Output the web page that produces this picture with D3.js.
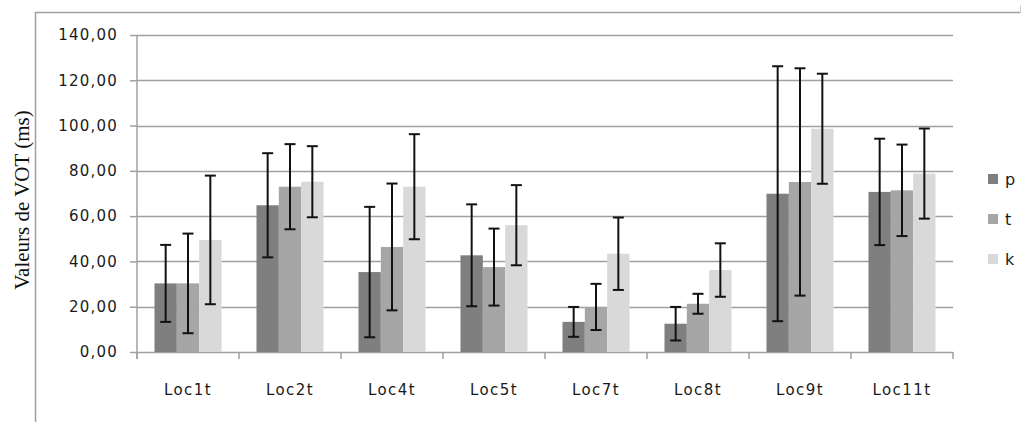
<!DOCTYPE html>
<html><head><meta charset="utf-8">
<script src="https://cdn.jsdelivr.net/npm/d3@7"></script>
<style>body{margin:0;background:#fff}svg{display:block}</style>
</head><body><svg id="c" width="1026" height="422"></svg>
<script>
const categories = ["Loc1t","Loc2t","Loc4t","Loc5t","Loc7t","Loc8t","Loc9t","Loc11t"];
const seriesNames = ["p","t","k"];
const pValues = [30.3, 64.8, 35.3, 42.7, 13.3, 12.5, 69.9, 70.7];
const tValues = [30.3, 73.0, 46.4, 37.5, 19.9, 21.3, 75.1, 71.4];
const kValues = [49.5, 75.2, 73.0, 56.0, 43.4, 36.2, 98.6, 78.8];
const pErrors = [17.0, 23.0, 28.8, 22.5, 6.6, 7.4, 56.3, 23.5];
const tErrors = [22.0, 18.8, 28.0, 17.0, 10.2, 4.4, 50.2, 20.2];
const kErrors = [28.4, 15.7, 23.2, 17.7, 16.0, 11.8, 24.3, 19.9];
const yTicks = [0,20,40,60,80,100,120,140];
const colors = ["#7f7f7f","#a6a6a6","#d9d9d9"];

const values = [pValues, tValues, kValues];
const errors = [pErrors, tErrors, kErrors];
const svg = d3.select("#c");
const L = 137, R = 953, T = 35, B = 352;
const FONT = "DejaVu Sans, sans-serif";

// outer frame
svg.append("line").attr("x1",35.5).attr("x2",35.5).attr("y1",12).attr("y2",422).attr("stroke","#a0a0a0").attr("stroke-width",1.5);
svg.append("line").attr("x1",35).attr("x2",1020).attr("y1",12.5).attr("y2",12.5).attr("stroke","#a0a0a0").attr("stroke-width",1.5);
svg.append("line").attr("x1",1020.5).attr("x2",1020.5).attr("y1",5).attr("y2",13).attr("stroke","#d0d0d0").attr("stroke-width",1);

const x0 = d3.scaleBand().domain(categories).range([L, R]).paddingInner(0.343).paddingOuter(0.1715);
const x1 = d3.scaleBand().domain(seriesNames).range([0, x0.bandwidth()]);
const y = d3.scaleLinear().domain([0,140]).range([B, T]);

// gridlines
svg.append("g").selectAll("line").data(yTicks.filter(d=>d>0)).join("line")
  .attr("x1",L).attr("x2",R).attr("y1",d=>Math.round(y(d))+0.5).attr("y2",d=>Math.round(y(d))+0.5)
  .attr("stroke","#a0a0a0").attr("stroke-width",1.5);

// y axis
const yAxis = svg.append("g").attr("transform",`translate(${L},0)`)
  .call(d3.axisLeft(y).tickValues(yTicks).tickSize(7).tickPadding(12).tickFormat(d=>d3.format(".2f")(d).replace(".",",")));
yAxis.select(".domain").attr("stroke","#a0a0a0").attr("stroke-width",1.5).attr("d",`M0,${B+7}V${T}`);
yAxis.selectAll(".tick line").attr("stroke","#a0a0a0").attr("stroke-width",1.5);
yAxis.selectAll("text").attr("font-family",FONT).attr("font-size",15).attr("letter-spacing",1.2).attr("fill","#1a1a1a");

// x axis
const bounds = d3.range(categories.length+1).map(i => L + i*(R-L)/categories.length);
svg.append("line").attr("x1",L).attr("x2",R).attr("y1",B+0.5).attr("y2",B+0.5).attr("stroke","#a0a0a0").attr("stroke-width",1.5);
svg.append("g").selectAll("line").data(bounds).join("line")
  .attr("x1",d=>d).attr("x2",d=>d).attr("y1",B).attr("y2",B+7).attr("stroke","#a0a0a0").attr("stroke-width",1.5);
svg.append("g").selectAll("text").data(categories).join("text")
  .attr("x",d=>x0(d)+x0.bandwidth()/2).attr("y",395).attr("text-anchor","middle")
  .attr("font-family",FONT).attr("font-size",15).attr("letter-spacing",1.4).attr("fill","#1a1a1a").text(d=>d);

// bars
seriesNames.forEach((s,si)=>{
  svg.append("g").selectAll("rect").data(categories).join("rect")
    .attr("x",(d)=>x0(d)+x1(s)).attr("width",x1.bandwidth())
    .attr("y",(d,i)=>y(values[si][i])).attr("height",(d,i)=>B-y(values[si][i]))
    .attr("fill",colors[si]);
});

// error bars
seriesNames.forEach((s,si)=>{
  const g = svg.append("g").attr("stroke","#111").attr("stroke-width",2);
  categories.forEach((c,i)=>{
    const cx = x0(c)+x1(s)+x1.bandwidth()/2;
    const v = values[si][i], e = errors[si][i];
    const yt = y(v+e), yb = y(v-e);
    g.append("line").attr("x1",cx).attr("x2",cx).attr("y1",yt).attr("y2",yb);
    g.append("line").attr("x1",cx-5.5).attr("x2",cx+5.5).attr("y1",yt).attr("y2",yt);
    g.append("line").attr("x1",cx-5.5).attr("x2",cx+5.5).attr("y1",yb).attr("y2",yb);
  });
});

// y label
svg.append("text").attr("transform","translate(29,200) rotate(-90)").attr("text-anchor","middle")
  .attr("font-family","Liberation Serif, serif").attr("font-size",21).attr("fill","#111").text("Valeurs de VOT (ms)");

// legend
const leg = svg.append("g").selectAll("g").data(seriesNames).join("g")
  .attr("transform",(d,i)=>`translate(988,${179+i*40})`);
leg.append("rect").attr("x",0).attr("y",-5).attr("width",10).attr("height",10).attr("fill",(d,i)=>colors[i]);
leg.append("text").attr("x",17).attr("y",6).attr("font-family",FONT).attr("font-size",16).attr("fill","#1a1a1a").text(d=>d);
</script></body></html>
